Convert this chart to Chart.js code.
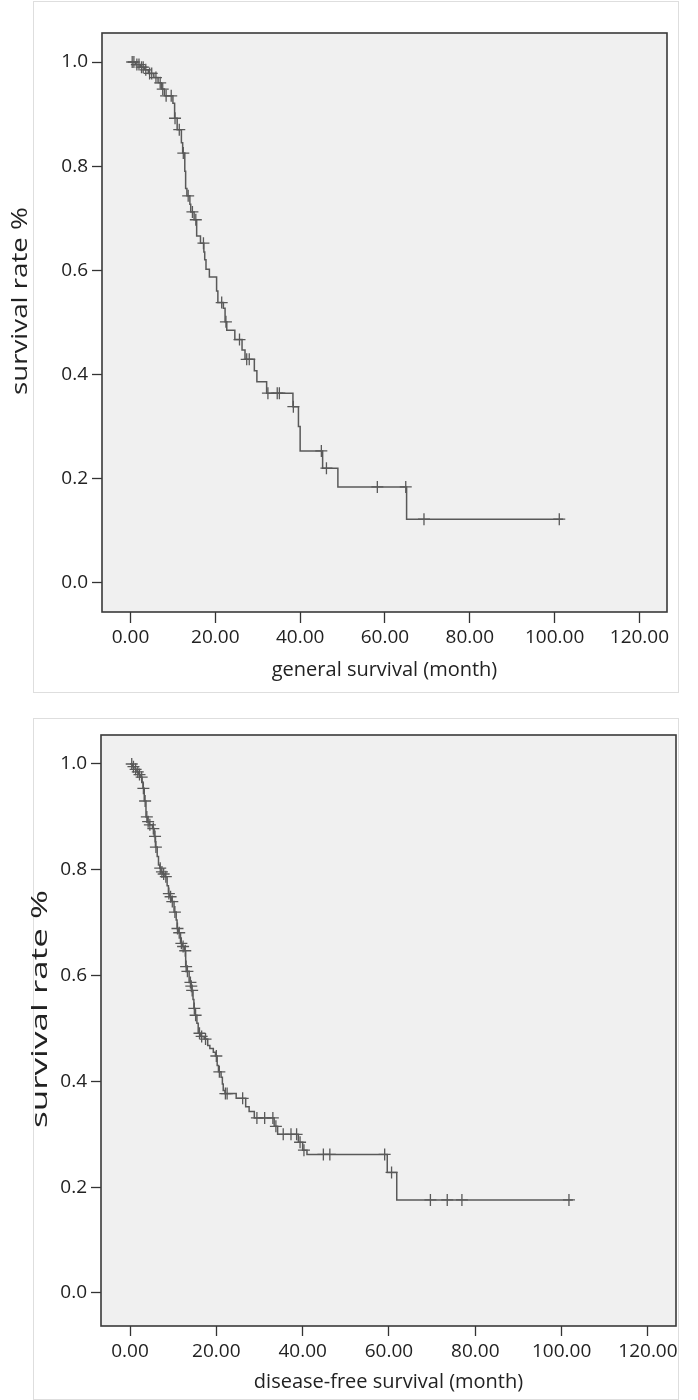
<!DOCTYPE html>
<html>
<head>
<meta charset="utf-8">
<script src="https://cdn.jsdelivr.net/npm/chart.js@4.4.1/dist/chart.umd.min.js"></script>
<style>
  html, body { margin: 0; padding: 0; background: #fff; }
  body { width: 698px; height: 1400px; position: relative; overflow: hidden; }
  .frame { position: absolute; border: 1px solid #dedede; box-sizing: border-box; }
  canvas { position: absolute; left: 0; }
</style>
</head>
<body>
<div class="frame" style="left:33px;top:1px;width:646px;height:692px"></div>
<div class="frame" style="left:33px;top:718px;width:646px;height:682px"></div>
<canvas id="osChart" width="698" height="700" style="top:0"></canvas>
<canvas id="dfsChart" width="698" height="695" style="top:705px"></canvas>
<script>
// Kaplan-Meier curves (months, survival proportion)

// general survival: event times and survival after each step
const osTimes = [0, 1.2, 2.3, 3.3, 4.2, 5.5, 6.5, 7.3, 8.0, 10.0, 10.4, 11.0, 12.0, 12.3, 12.8,
    13.0, 13.3, 14.0, 14.2, 15.0, 15.6, 16.5, 17.3, 17.5, 17.8, 18.6, 20.3, 20.6, 21.9, 22.3,
    22.7, 24.6, 26.3, 27.0, 29.2, 29.8, 32.1, 38.3, 39.6, 40.0, 45.3, 48.9, 65.1, 102.0];
const osSurv = [1.0, 0.995, 0.99, 0.985, 0.978, 0.97, 0.96, 0.948, 0.935, 0.921, 0.892, 0.87, 0.845, 0.825, 0.79,
    0.757, 0.743, 0.727, 0.712, 0.697, 0.666, 0.652, 0.635, 0.62, 0.602, 0.587, 0.56, 0.538, 0.527, 0.501,
    0.485, 0.467, 0.447, 0.429, 0.407, 0.386, 0.364, 0.338, 0.30, 0.253, 0.22, 0.184, 0.122, 0.122];
// censored cases (the "+" marks)
const osCensored = [0.4, 0.8, 1.5, 2.0, 2.6, 3.0, 3.6, 4.5, 5.0, 6.0, 7.0, 7.6, 8.4, 9.6, 10.5, 11.5,
    12.45, 13.6, 14.6, 15.4, 17.2, 21.5, 22.5, 25.7, 27.4, 28.0, 32.4, 34.6, 35.1, 38.4, 45.0, 46.2,
    58.2, 64.9, 69.2, 101.1];

// disease-free survival
const dfsTimes = [0, 0.6, 1.2, 1.6, 2.0, 2.5, 2.8, 3.0, 3.3, 3.7, 4.1, 4.5, 5.2, 5.6, 5.9,
    6.3, 6.6, 6.9, 7.2, 7.6, 8.1, 8.6, 8.9, 9.2, 9.6, 10.2, 10.7, 10.9, 11.3, 11.7,
    12.1, 12.6, 12.9, 13.2, 13.7, 14.1, 14.3, 14.6, 14.8, 15.1, 15.5, 15.8, 16.4, 17.2, 18.0,
    18.5, 19.3, 19.8, 20.2, 20.5, 21.1, 21.4, 21.6, 22.0, 24.6, 26.8, 27.6, 28.8, 33.4, 34.2,
    39.0, 40.0, 41.0, 59.6, 61.8, 102.6];
const dfsSurv = [1.0, 0.995, 0.99, 0.985, 0.98, 0.975, 0.966, 0.954, 0.93, 0.90, 0.891, 0.885, 0.878, 0.863, 0.843,
    0.825, 0.809, 0.803, 0.796, 0.792, 0.787, 0.77, 0.755, 0.749, 0.74, 0.72, 0.705, 0.689, 0.681, 0.661,
    0.655, 0.647, 0.617, 0.608, 0.587, 0.58, 0.572, 0.555, 0.538, 0.525, 0.51, 0.491, 0.485, 0.48, 0.468,
    0.462, 0.455, 0.448, 0.43, 0.418, 0.408, 0.395, 0.383, 0.377, 0.368, 0.352, 0.343, 0.331, 0.315, 0.30,
    0.285, 0.27, 0.262, 0.228, 0.176, 0.176];
const dfsCensored = [0.4, 0.8, 1.3, 1.8, 2.2, 2.7, 3.1, 3.5, 3.9, 4.2, 4.6, 5.4, 5.8, 6.0, 7.0, 7.4,
    7.8, 8.3, 9.0, 9.4, 9.8, 10.4, 11.0, 11.4, 11.9, 12.3, 12.8, 13.0, 13.3, 14.0, 14.2, 14.4,
    14.9, 15.2, 16.1, 16.6, 17.5, 20.0, 20.7, 22.1, 22.5, 26.1, 29.4, 31.2, 33.1, 33.8, 35.5, 37.3,
    38.6, 39.4, 40.3, 44.8, 46.3, 59.0, 60.6, 69.6, 73.5, 76.9, 101.7];

// axis ticks
const xTickValues = [0, 20, 40, 60, 80, 100, 120];
const yTickValues = [0, 0.2, 0.4, 0.6, 0.8, 1.0];
const yTitle = 'survival rate %';

const lineColor = '#595959';
const textColor = '#222';

Chart.defaults.font.family = '"Open Sans", sans-serif';
Chart.defaults.font.size = 18;
Chart.defaults.color = textColor;

function kmPoints(times, surv) {
    return times.map((t, i) => ({ x: t, y: surv[i] }));
}

// put each censor mark on the step it falls on
function censorPoints(censored, times, surv) {
    return censored.map(c => {
        let s = surv[0];
        for (let i = 0; i < times.length; i++) {
            if (times[i] <= c) s = surv[i];
        }
        return { x: c, y: s };
    });
}

// grey plot area with a dark box round it
const plotBox = {
    id: 'plotBox',
    beforeDraw(chart) {
        const { ctx, chartArea: a } = chart;
        ctx.save();
        ctx.fillStyle = '#f0f0f0';
        ctx.fillRect(a.left, a.top, a.right - a.left, a.bottom - a.top);
        ctx.restore();
    },
    afterDraw(chart) {
        const { ctx, chartArea: a } = chart;
        ctx.save();
        ctx.strokeStyle = '#3a3a3a';
        ctx.lineWidth = 1.6;
        ctx.strokeRect(a.left, a.top, a.right - a.left, a.bottom - a.top);
        ctx.restore();
    }
};

// the vertical axis title is set wide in the original, draw it stretched
const stretchedYTitle = {
    id: 'yTitle',
    afterDraw(chart, args, opts) {
        const ctx = chart.ctx;
        ctx.save();
        ctx.font = '21px "Open Sans", sans-serif';
        ctx.fillStyle = textColor;
        ctx.textAlign = 'center';
        ctx.textBaseline = 'middle';
        const w = ctx.measureText(opts.text).width;
        ctx.translate(opts.x, opts.y);
        ctx.rotate(-Math.PI / 2);
        ctx.scale(opts.length / w, 1);
        ctx.fillText(opts.text, 0, 0);
        ctx.restore();
    }
};

function drawKM(canvasId, times, surv, censored, xTitle, lay) {
    const ctx = document.getElementById(canvasId);
    new Chart(ctx, {
        type: 'line',
        data: {
            datasets: [{
                data: kmPoints(times, surv),
                stepped: 'before',
                borderColor: lineColor,
                borderWidth: 1.5,
                pointRadius: 0,
                fill: false
            }, {
                data: censorPoints(censored, times, surv),
                showLine: false,
                pointStyle: 'cross',
                pointRadius: 6,
                borderColor: lineColor,
                borderWidth: 1.3
            }]
        },
        options: {
            responsive: false,
            animation: false,
            layout: { padding: lay.padding },
            plugins: {
                legend: { display: false },
                tooltip: { enabled: false },
                yTitle: { text: yTitle, x: lay.yTitleX, y: lay.yTitleY, length: lay.yTitleLen }
            },
            scales: {
                x: {
                    type: 'linear',
                    min: -6.72,
                    max: 126.5,
                    afterBuildTicks: axis => { axis.ticks = xTickValues.map(v => ({ value: v })); },
                    afterFit: scale => { scale.height = lay.xHeight; },
                    ticks: {
                        padding: lay.xTickPad,
                        maxRotation: 0,
                        font: { size: 19 },
                        callback: v => v.toFixed(2)
                    },
                    grid: {
                        drawOnChartArea: false,
                        tickLength: lay.xTickLen,
                        tickColor: '#333',
                        tickWidth: 1.3
                    },
                    border: { display: false },
                    title: {
                        display: true,
                        text: xTitle,
                        color: textColor,
                        font: { size: 20 },
                        padding: { top: 0, bottom: lay.xTitlePad }
                    }
                },
                y: {
                    min: lay.yMin,
                    max: lay.yMax,
                    afterBuildTicks: axis => { axis.ticks = yTickValues.map(v => ({ value: v })); },
                    afterFit: scale => { scale.width = lay.yWidth; },
                    ticks: {
                        padding: 4,
                        font: { size: 19 },
                        callback: v => v.toFixed(1)
                    },
                    grid: {
                        drawOnChartArea: false,
                        tickLength: 10,
                        tickColor: '#333',
                        tickWidth: 1.3
                    },
                    border: { display: false },
                    title: { display: false }
                }
            }
        },
        plugins: [plotBox, stretchedYTitle]
    });
}

drawKM('osChart', osTimes, osSurv, osCensored, 'general survival (month)', {
    padding: { top: 33, right: 31, left: 0, bottom: 0 },
    xHeight: 88, xTickLen: 11, xTickPad: 3, xTitlePad: 18,
    yWidth: 102, yMin: -0.0563, yMax: 1.0557,
    yTitleX: 21, yTitleY: 301, yTitleLen: 188
});

drawKM('dfsChart', dfsTimes, dfsSurv, dfsCensored, 'disease-free survival (month)', {
    padding: { top: 30, right: 22, left: 0, bottom: 0 },
    xHeight: 74, xTickLen: 10, xTickPad: 4, xTitlePad: 6,
    yWidth: 101, yMin: -0.0624, yMax: 1.0548,
    yTitleX: 41, yTitleY: 304, yTitleLen: 238
});
</script>
</body>
</html>
